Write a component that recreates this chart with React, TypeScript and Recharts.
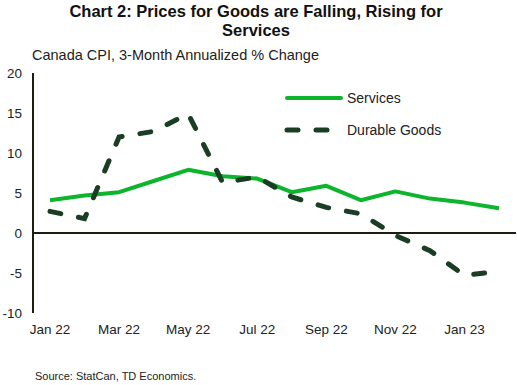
import { LineChart, Line, XAxis, YAxis, ReferenceLine } from "recharts";

const months = [
  "Jan 22", "Feb 22", "Mar 22", "Apr 22", "May 22", "Jun 22", "Jul 22",
  "Aug 22", "Sep 22", "Oct 22", "Nov 22", "Dec 22", "Jan 23", "Feb 23",
];
const services = [4.1, 4.7, 5.1, 6.5, 7.9, 7.1, 6.8, 5.1, 5.9, 4.1, 5.2, 4.3, 3.8, 3.1];
const durableGoods = [2.7, 1.8, 12.0, 12.7, 14.9, 6.3, 7.0, 4.5, 3.2, 2.4, -0.3, -2.2, -5.3, -4.8];
const yTicks = [-10, -5, 0, 5, 10, 15, 20];

const data = months.map((m, i) => ({ month: m, services: services[i], durable: durableGoods[i] }));

const SERVICES_COLOR = "#0db52d";
const DURABLE_COLOR = "#1a3d24";
const FONT = "'Liberation Sans', Arial, sans-serif";

function LegendBox() {
  return (
    <svg width={200} height={60} style={{ position: "absolute", left: 285, top: 90, overflow: "visible" }}>
      <line x1={2} y1={8} x2={56} y2={8} stroke={SERVICES_COLOR} strokeWidth={4} strokeLinecap="round" />
      <text x={62} y={13} fontSize={14} fill="#222" fontFamily={FONT}>Services</text>
      <line x1={2} y1={40} x2={56} y2={40} stroke={DURABLE_COLOR} strokeWidth={5}
        strokeLinecap="round" strokeDasharray="11 18" />
      <text x={62} y={45} fontSize={14} fill="#222" fontFamily={FONT}>Durable Goods</text>
    </svg>
  );
}

export default function App() {
  return (
    <div style={{ position: "absolute", left: 0, top: 0, width: 517, height: 385, background: "#fff", fontFamily: FONT }}>
      <div style={{ position: "absolute", left: 0, top: 2, width: 512, textAlign: "center", fontWeight: "bold", fontSize: 16.5, lineHeight: "19px", color: "#111" }}>
        Chart 2: Prices for Goods are Falling, Rising for
        <br />
        Services
      </div>
      <div style={{ position: "absolute", left: 32, top: 47, fontSize: 14.5, color: "#222" }}>
        Canada CPI, 3-Month Annualized % Change
      </div>
      <LineChart width={517} height={385} data={data} margin={{ top: 73, right: 1, bottom: 42, left: 0 }}>
        <XAxis dataKey="month" interval={1} axisLine={false} tickLine={false} tickSize={0} tickMargin={11}
          padding={{ left: 17, right: 17 }} height={30}
          tick={{ fontSize: 13.5, fill: "#222", fontFamily: FONT }} />
        <YAxis domain={[-10, 20]} ticks={yTicks} width={33} tickLine={false} tickSize={0} tickMargin={11}
          axisLine={{ stroke: "#1e1e10", strokeWidth: 2 }}
          tick={{ fontSize: 13.5, fill: "#222", fontFamily: FONT }} />
        <ReferenceLine y={0} stroke="#1e1e10" strokeWidth={2} />
        <Line type="linear" dataKey="services" stroke={SERVICES_COLOR} strokeWidth={4} dot={false}
          isAnimationActive={false} strokeLinejoin="round" />
        <Line type="linear" dataKey="durable" stroke={DURABLE_COLOR} strokeWidth={5} dot={false}
          strokeDasharray="11 18" strokeLinecap="round" isAnimationActive={false} />
      </LineChart>
      <LegendBox />
      <div style={{ position: "absolute", left: 35, top: 370, fontSize: 11, color: "#222" }}>
        Source: StatCan, TD Economics.
      </div>
    </div>
  );
}
